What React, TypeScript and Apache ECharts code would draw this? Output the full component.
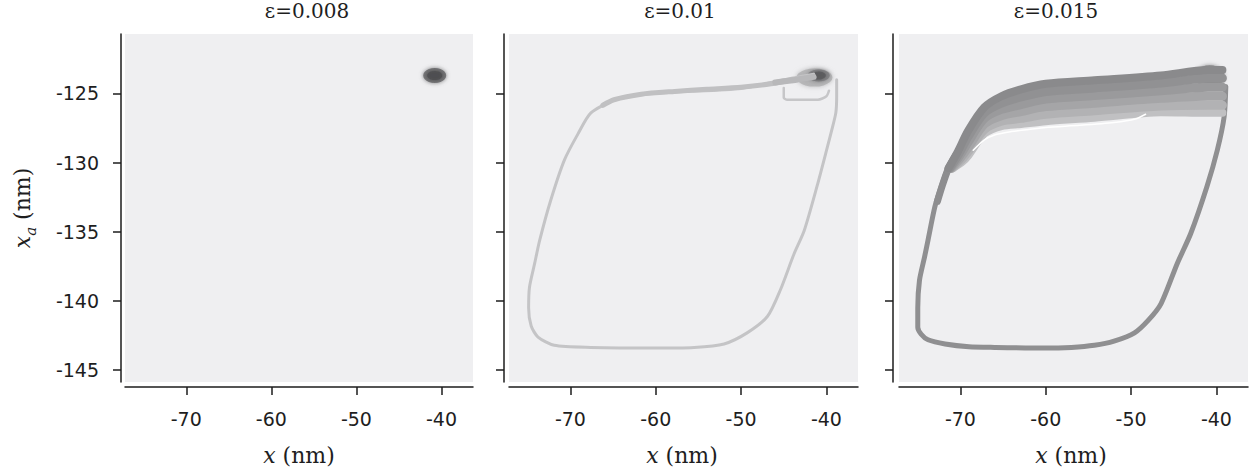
import React, { useEffect, useRef } from "react";
import * as echarts from "echarts";

const panelTitles = ["ε=0.008", "ε=0.01", "ε=0.015"];
const xTicks = [-70, -60, -50, -40];
const yTicks = [-125, -130, -135, -140, -145];
const xRange = [-77.2, -36.3];
const yRange = [-145.85, -120.7];

// blob centres (x, x_a)
const blob1 = [-40.8, -123.7];
const blob2 = [-40.9, -123.7];
const blob2Halo = [-41.4, -123.85];
const blob3 = [-40.6, -123.6];
const blob3Halo = [-40.8, -123.75];

// eps = 0.01 loop
const loop2 = [
  [-38.8, -124.0], [-38.8, -125.2], [-38.9, -126.4], [-39.4, -127.7], [-39.9, -128.9],
  [-41.1, -131.7], [-42.6, -134.9], [-43.8, -136.6], [-45.4, -139.2], [-46.9, -141.1],
  [-49.3, -142.3], [-52.0, -143.1], [-55.5, -143.35], [-60.2, -143.4], [-67.6, -143.35],
  [-71.9, -143.2], [-73.8, -142.6], [-74.6, -141.8], [-74.9, -140.5], [-74.8, -139.0],
  [-74.2, -137.3], [-73.6, -135.6], [-72.3, -132.7], [-70.7, -129.8], [-69.1, -127.9],
  [-67.6, -126.4], [-64.9, -125.5], [-61.7, -125.1], [-57.8, -124.9], [-50.0, -124.64],
  [-45.0, -124.0], [-41.5, -123.6],
];
const loop2Top = [
  [-66.2, -125.85], [-64.9, -125.45], [-61.7, -125.05], [-57.8, -124.85], [-54.0, -124.7],
  [-50.0, -124.55], [-46.5, -124.3], [-44.0, -124.0],
];
const loop2Tail = [[-46.0, -124.2], [-43.5, -124.0], [-41.5, -123.8]];
const loop2Inner = [
  [-45.0, -124.6], [-45.0, -125.3], [-44.6, -125.45], [-41.0, -125.45], [-40.0, -125.2],
  [-39.7, -124.8],
];

// eps = 0.015 loop
const loop3 = [
  [-70.3, -129.1], [-71.4, -130.3], [-72.3, -131.8], [-73.0, -133.2],
  [-73.8, -135.6], [-74.2, -136.8], [-74.8, -138.5], [-75.0, -140.5], [-75.0, -141.9],
  [-74.6, -142.4], [-73.8, -142.8], [-71.8, -143.1], [-69.0, -143.3], [-66.0, -143.35],
  [-60.2, -143.4], [-57.0, -143.35], [-54.3, -143.2], [-52.0, -142.9], [-49.6, -142.3],
  [-48.0, -141.4], [-46.5, -140.2], [-44.6, -137.3], [-43.0, -135.1], [-41.1, -131.7],
  [-39.9, -129.1], [-39.1, -126.7], [-38.9, -124.5],
];
const leftThick3 = [
  [-70.6, -129.5], [-71.4, -130.4], [-72.1, -131.6], [-72.7, -132.8],
];
const band1 = [
  [-71.4, -130.4], [-70.3, -129.2], [-69.1, -127.7], [-67.2, -126.0], [-65.2, -125.2],
  [-62.9, -124.7], [-60.0, -124.3], [-54.3, -124.05], [-46.5, -123.7], [-41.0, -123.3],
  [-39.3, -123.3],
];
const band2 = [
  [-71.3, -130.4], [-70.2, -129.35], [-69.1, -128.1], [-67.2, -126.4], [-65.2, -125.7],
  [-62.9, -125.25], [-60.0, -124.85], [-54.3, -124.6], [-46.5, -124.25], [-41.0, -123.9],
  [-39.3, -123.9],
];
const band3 = [
  [-71.2, -130.4], [-70.1, -129.5], [-69.1, -128.5], [-67.2, -126.8], [-65.2, -126.15],
  [-62.9, -125.8], [-60.0, -125.4], [-54.3, -125.15], [-46.5, -124.8], [-41.0, -124.55],
  [-39.3, -124.55],
];
const band4 = [
  [-71.1, -130.4], [-70.0, -129.65], [-69.1, -128.9], [-67.2, -127.2], [-65.2, -126.6],
  [-62.9, -126.3], [-60.0, -125.95], [-54.3, -125.7], [-46.5, -125.35], [-41.0, -125.2],
  [-39.3, -125.2],
];
const band5 = [
  [-71.0, -130.4], [-69.9, -129.8], [-69.1, -129.2], [-67.2, -127.6], [-65.2, -127.0],
  [-62.9, -126.8], [-60.0, -126.5], [-54.3, -126.25], [-46.5, -125.9], [-41.0, -125.85],
  [-39.3, -125.85],
];
const band6 = [
  [-70.9, -130.4], [-69.8, -129.95], [-69.1, -129.5], [-67.2, -127.9], [-65.2, -127.35],
  [-62.9, -127.2], [-60.0, -127.0], [-54.3, -126.75], [-49.0, -126.45], [-46.5, -126.35],
  [-41.0, -126.4], [-39.3, -126.4],
];
const whiteLine3 = [
  [-68.5, -129.1], [-67.2, -128.35], [-66.0, -128.0], [-64.5, -127.8], [-62.0, -127.6],
  [-60.0, -127.45], [-56.0, -127.3], [-52.0, -127.1], [-49.5, -126.85], [-48.3, -126.5],
];

const GRIDS = [
  { left: 125, top: 34, width: 348, height: 348, yOff: 4 },
  { left: 509, top: 34, width: 349, height: 348, yOff: 5 },
  { left: 899, top: 34, width: 349, height: 348, yOff: 6 },
];
const titleX = [307, 680, 1056];
const xNameX = [299, 682, 1071];

const AX = "#1c1c1c";
const SANS = "DejaVu Sans";
const SERIF = "DejaVu Serif";

function lineSeries(idx: number, data: number[][], color: string, width: number, smooth = 0.25) {
  return {
    type: "line",
    xAxisIndex: idx,
    yAxisIndex: idx,
    data,
    showSymbol: false,
    symbol: "none",
    silent: true,
    smooth,
    lineStyle: { color, width, cap: "round", join: "round" },
  };
}

function blobSeries(idx: number, c: number[], size: number[], color: string, blur: number) {
  return {
    type: "scatter",
    xAxisIndex: idx,
    yAxisIndex: idx,
    data: [c],
    symbol: "circle",
    symbolSize: size,
    silent: true,
    itemStyle: { color, shadowBlur: blur, shadowColor: color },
  };
}

export default function App() {
  const ref = useRef<HTMLDivElement>(null);
  useEffect(() => {
    document.body.style.margin = "0";
    if (!ref.current) return;
    const chart = echarts.init(ref.current, undefined, { renderer: "svg" });
    const grid = GRIDS.map((g) => ({
      left: g.left,
      top: g.top,
      width: g.width,
      height: g.height,
      show: true,
      backgroundColor: "#efeff1",
      borderWidth: 0,
      containLabel: false,
    }));
    const xAxis = GRIDS.map((g, i) => ({
      type: "value",
      gridIndex: i,
      min: xRange[0],
      max: xRange[1],
      position: "bottom",
      offset: 5,
      axisLine: { show: true, onZero: false, lineStyle: { color: AX, width: 1.5 } },
      axisTick: { show: true, length: 8, customValues: xTicks, lineStyle: { color: AX, width: 1.5 } },
      axisLabel: {
        show: true,
        customValues: xTicks,
        margin: 22,
        fontSize: 19,
        fontFamily: SANS,
        color: "#1e1e1e",
      },
      splitLine: { show: false },
    }));
    const yAxis = GRIDS.map((g, i) => ({
      type: "value",
      gridIndex: i,
      min: yRange[0],
      max: yRange[1],
      position: "left",
      offset: g.yOff,
      axisLine: { show: true, onZero: false, lineStyle: { color: AX, width: 1.5 } },
      axisTick: { show: true, length: 8, customValues: yTicks, lineStyle: { color: AX, width: 1.5 } },
      axisLabel: {
        show: i === 0,
        customValues: yTicks,
        margin: 22,
        fontSize: 19,
        fontFamily: SANS,
        color: "#1e1e1e",
      },
      splitLine: { show: false },
    }));

    const series: any[] = [
      // panel 1
      blobSeries(0, blob1, [23, 15], "#636365", 4),
      blobSeries(0, blob1, [15, 9], "#4e4e50", 3),
      // panel 2
      lineSeries(1, loop2, "#c4c4c6", 3),
      lineSeries(1, loop2Top, "#c0c0c2", 5),
      lineSeries(1, loop2Inner, "#c6c6c8", 2.5),
      lineSeries(1, loop2Tail, "#b8b8ba", 6),
      blobSeries(1, blob2Halo, [36, 18], "#b0b0b2", 5),
      blobSeries(1, blob2, [22, 12], "#7c7c7e", 4),
      blobSeries(1, blob2, [14, 8], "#5a5a5c", 3),
      // panel 3
      lineSeries(2, loop3, "#8f8f91", 5),
      lineSeries(2, leftThick3, "#8d8d8f", 7),
      lineSeries(2, band6, "#c0c0c2", 8, 0.3),
      lineSeries(2, band5, "#b2b2b4", 9, 0.3),
      lineSeries(2, band4, "#a5a5a7", 9, 0.3),
      lineSeries(2, band3, "#9a9a9c", 9, 0.3),
      lineSeries(2, band2, "#919193", 9, 0.3),
      lineSeries(2, band1, "#8a8a8c", 8, 0.3),
      lineSeries(2, whiteLine3, "#ffffff", 1.5),
      blobSeries(2, blob3Halo, [30, 22], "#7e7e80", 4),
      blobSeries(2, blob3, [18, 12], "#666668", 4),
    ];

    const graphic: any[] = [];
    panelTitles.forEach((t, i) => {
      graphic.push({
        type: "text",
        x: titleX[i],
        y: 11,
        silent: true,
        style: {
          text: t,
          font: `20px "${SERIF}"`,
          lineHeight: 20,
          fill: "#1e1e1e",
          align: "center",
          verticalAlign: "middle",
        },
      });
      graphic.push({
        type: "text",
        x: xNameX[i],
        y: 455,
        silent: true,
        style: {
          text: "{i|x} (nm)",
          font: `22px "${SERIF}"`,
          fill: "#1e1e1e",
          align: "center",
          verticalAlign: "middle",
          rich: {
            i: { fontStyle: "italic", fontFamily: SERIF, fontSize: 22, fill: "#1e1e1e" },
          },
        },
      });
    });
    graphic.push({
      type: "text",
      x: 22,
      y: 208,
      rotation: Math.PI / 2,
      silent: true,
      style: {
        text: "{i|x}{s|a} (nm)",
        font: `22px "${SERIF}"`,
        fill: "#1e1e1e",
        align: "center",
        verticalAlign: "middle",
        rich: {
          i: { fontStyle: "italic", fontFamily: SERIF, fontSize: 22, fill: "#1e1e1e" },
          s: { fontStyle: "italic", fontFamily: SERIF, fontSize: 15, fill: "#1e1e1e", padding: [18, 0, 0, 0] },
        },
      },
    });

    chart.setOption({
      animation: false,
      backgroundColor: "#ffffff",
      grid,
      xAxis,
      yAxis,
      series,
      graphic,
    });
    return () => chart.dispose();
  }, []);
  return <div ref={ref} style={{ width: 1249, height: 472 }} />;
}
